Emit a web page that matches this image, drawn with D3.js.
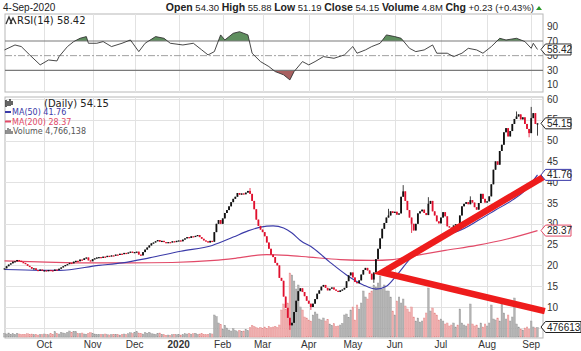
<!DOCTYPE html>
<html>
<head>
<meta charset="utf-8">
<script src="https://cdn.jsdelivr.net/npm/d3@7"></script>
<style>
  body { margin: 0; background: #fff; }
  svg { display: block; font-family: "Liberation Sans", Arial, sans-serif; }
</style>
</head>
<body>
<svg id="chart" width="581" height="351"></svg>
<script>
// daily closes, 4-Sep-2019 .. 4-Sep-2020
const closes = [
  19.3,19.8,20.2,20.5,20.9,21.0,21.3,21.1,20.8,20.6,20.3,19.9,19.6,19.2,19.3,18.9,18.8,19.0,18.7,18.8,
  18.6,18.9,18.8,18.7,19.0,18.9,19.2,19.5,19.8,20.1,20.3,20.6,20.5,20.9,21.1,21.0,21.4,21.3,21.7,21.9,21.2,21.0,21.5,21.7,21.9,22.0,
  21.8,22.1,22.0,22.3,22.2,22.4,22.3,22.6,22.5,22.8,22.7,23.0,22.9,23.1,23.3,23.0,23.2,23.3,22.6,22.4,23.2,23.8,
  24.3,24.8,25.3,25.5,25.8,26.1,25.7,25.9,25.6,25.4,25.6,25.5,25.8,25.6,25.9,26.0,25.8,26.2,26.5,26.8,26.6,27.0,26.9,27.1,27.3,26.8,26.4,26.0,25.8,25.5,25.9,25.7,
  28.0,30.0,30.9,30.0,31.3,32.6,33.3,34.2,35.2,36.0,36.5,37.4,37.0,37.3,37.1,37.5,37.9,37.2,35.5,33.5,31.0,29.5,
  28.6,28.0,27.0,25.5,24.0,22.6,22.0,20.6,20.0,17.0,16.3,12.5,9.8,7.4,5.6,6.2,8.8,11.5,13.8,14.5,13.6,12.6,11.5,10.8,
  10.0,10.8,11.9,13.2,14.0,14.9,15.3,14.6,14.0,14.4,14.7,14.2,13.9,13.6,14.0,14.2,14.6,16.2,17.6,18.3,17.1,16.0,15.7,16.4,17.8,18.9,19.4,18.8,18.0,16.6,18.3,
  21.5,24.0,26.5,28.8,30.2,31.5,32.0,33.0,32.6,32.9,32.2,32.5,36.5,37.8,35.5,33.3,31.5,30.0,28.4,30.0,32.5,33.0,33.4,32.6,32.1,34.8,
  35.5,33.0,32.0,30.6,30.1,31.5,32.8,31.8,29.4,29.1,28.8,29.6,29.9,29.0,32.0,34.2,34.8,35.2,34.7,35.7,35.1,34.0,33.4,35.0,37.2,36.0,35.1,35.4,
  36.6,39.5,43.0,45.0,44.2,47.5,49.0,52.0,53.0,51.0,52.3,54.0,55.2,55.8,56.3,55.1,55.6,54.0,52.8,51.8,55.4,56.6,54.0,54.15
];
// notable wicks (trading-day index -> price)
const highs = {117: 38.6, 183: 33.6, 190: 39.3, 202: 36.4, 222: 36.6, 244: 57.0, 251: 58.1};
const lows = {136: 4.5, 146: 9.3, 176: 15.8, 194: 27.8, 250: 50.8, 254: 51.19};

// daily volume, millions
const volumes = [
  1.8,1.5,2.0,1.4,1.6,1.3,1.9,1.5,1.2,1.4,1.3,1.6,1.2,1.5,1.1,1.4,1.0,1.3,1.2,1.5,
  1.3,1.1,1.6,1.4,2.6,1.8,1.5,2.3,2.0,1.7,2.4,3.0,2.2,2.9,2.6,1.8,1.6,2.0,1.5,1.4,1.9,2.2,1.6,1.5,1.2,1.4,
  1.3,1.2,1.5,1.1,1.0,1.3,1.2,1.4,1.1,1.0,1.3,1.5,1.2,1.6,2.1,1.7,2.3,2.6,2.0,1.8,1.5,2.2,
  1.9,2.4,1.6,1.5,1.3,1.8,2.0,1.4,1.1,0.9,1.0,0.8,1.2,1.4,1.1,1.3,1.0,1.2,1.6,1.5,1.8,1.4,1.6,1.9,1.3,1.5,1.7,1.3,1.2,1.4,1.6,1.5,
  11.0,10.2,7.0,6.2,4.0,5.8,4.5,3.5,3.0,4.1,3.2,2.6,3.4,2.8,3.0,3.8,3.2,4.6,5.8,5.2,4.6,4.3,
  4.8,4.2,5.0,4.4,5.2,4.6,5.0,5.4,4.8,6.0,13.5,16.5,14.0,17.0,32.0,31.0,28.0,24.0,26.0,15.0,13.5,10.0,9.5,
  8.5,8.0,11.0,12.5,11.5,9.0,8.5,9.5,8.0,8.8,6.5,5.8,6.6,5.2,5.5,6.0,6.8,11.0,11.5,9.8,13.5,15.0,8.5,16.0,14.0,17.0,23.0,20.0,19.0,22.0,23.0,26.0,25.0,27.0,30.5,24.0,26.0,23.0,23.0,
  20.0,13.0,11.0,18.0,20.0,17.0,19.0,15.5,14.0,12.5,15.0,10.0,8.0,9.5,7.5,
  8.0,9.5,12.0,24.5,13.0,14.5,12.0,11.0,8.5,9.0,8.0,6.5,7.0,5.5,6.0,7.0,5.0,6.0,14.0,7.0,6.0,5.5,6.5,16.5,6.5,5.5,6.0,4.5,7.0,5.0,6.5,5.5,
  7.0,16.0,9.0,8.5,9.5,8.0,19.0,12.0,9.0,11.0,8.0,10.0,19.5,6.5,5.0,4.0,3.5,4.5,5.0,4.0,8.0,5.0,4.5,4.77
];

// moving averages read at sample days
const ma50Idx = [0,17,26,45,56,69,84,99,109,116,122,128,133,137,141,147,155,163,171,177,182,187,194,203,211,218,226,234,242,248,254];
const ma50Val = [19.0,18.8,18.8,20.0,20.6,21.8,23.4,24.8,26.8,28.3,29.2,29.5,29.0,27.8,26.0,24.2,20.8,17.7,15.3,14.3,15.0,17.7,22.0,25.4,27.3,28.6,30.9,33.3,35.7,38.0,41.76];
const ma200Idx = [0,20,40,60,80,100,110,125,135,145,160,175,185,195,210,225,240,254];
const ma200Val = [21.1,20.8,20.6,20.6,20.7,21.2,21.7,22.6,22.4,22.0,21.4,21.2,21.4,22.3,23.6,24.8,26.4,28.37];

// RSI(14) read at sample days
const rsiIdx = [0,5,8,12,17,21,25,26,30,33,36,39,40,44,47,51,56,60,64,67,72,76,79,85,90,94,97,100,103,105,109,112,116,118,122,126,129,133,136,138,142,145,148,152,157,162,166,168,172,175,179,182,186,189,193,196,200,204,206,211,214,218,221,225,228,232,236,239,244,248,251,252,254];
const rsiVal = [57.8,64.6,62.4,51.0,37.4,44.1,42.8,48.7,62.4,69.2,73.7,76.0,66.9,66.9,69.2,62.4,66.9,71.4,55.5,66.9,76.0,73.7,66.9,64.6,66.9,57.8,51.0,55.5,78.3,71.4,80.5,82.7,78.3,53.3,41.9,35.1,28.3,23.8,16.9,28.3,41.9,37.4,41.9,48.7,46.4,51.0,62.4,53.3,57.8,62.4,66.9,78.3,76.0,73.7,60.0,55.5,57.8,64.6,53.3,53.3,48.7,53.3,60.0,57.8,53.3,62.4,73.7,71.4,73.7,69.2,60.0,66.9,58.42];

// hand-drawn annotation lines: [index, price]
const trendUp = [[180, 18.3], [261, 42.5]];
const trendDown = [[180, 18.3], [257.5, 9.0]];

const monthLabels = ["Oct", "Nov", "Dec", "2020", "Feb", "Mar", "Apr", "May", "Jun", "Jul", "Aug", "Sep"];
const priceTicks = [60, 55, 50, 45, 40, 35, 30, 25, 20, 15, 10];
const rsiTicks = [90, 70, 50, 30, 10];

// trading calendar
const holidays = ["2019-11-28", "2019-12-25", "2020-01-01", "2020-01-20", "2020-02-17", "2020-04-10", "2020-05-25", "2020-07-03"];
const fmt = d3.timeFormat("%Y-%m-%d");
const days = [];
for (let d = new Date(2019, 8, 4); d <= new Date(2020, 8, 4); d.setDate(d.getDate() + 1)) {
  const wd = d.getDay();
  if (wd === 0 || wd === 6 || holidays.includes(fmt(d))) continue;
  days.push(new Date(d));
}
const monthStarts = [];
days.forEach(function(d, i) {
  if (i > 0 && d.getMonth() !== days[i - 1].getMonth()) monthStarts.push(i);
});

const n = closes.length;
const svg = d3.select("#chart");
const left = 5, right = 543;
const rsiTop = 14, rsiBottom = 92;
const pTop = 97, pBottom = 338;

const x = d3.scaleLinear().domain([0, n - 1]).range([4.5, 537.5]);
const yP = d3.scaleLinear().domain([10, 60]).range([307, 99]);
const yR = d3.scaleLinear().domain([30, 70]).range([70.3, 41]);
const yV = d3.scaleLinear().domain([0, 32]).range([337, 273]);

// ---- header
svg.append("text").attr("x", 3).attr("y", 10.5).attr("font-size", 10).attr("fill", "#222").text("4-Sep-2020");
const head = svg.append("text").attr("y", 10.5).attr("font-size", 10.5).attr("fill", "#222");
[["Open", " 54.30 "], ["High", " 55.88 "], ["Low", " 51.19 "], ["Close", " 54.15 "], ["Volume", " 4.8M "], ["Chg", " +0.23 (+0.43%)"]].forEach(function(p) {
  head.append("tspan").attr("font-weight", "bold").text(p[0]);
  head.append("tspan").attr("font-size", 9.5).text(p[1]);
});
const hw = head.node().getComputedTextLength();
head.attr("x", 534 - hw);
svg.append("path").attr("d", "M536,10 L542,10 L539,6 Z").attr("fill", "#2a9a2a");

// ---- panels
function panel(top, bottom) {
  svg.append("rect").attr("x", left).attr("y", top).attr("width", right - left).attr("height", bottom - top)
    .attr("fill", "#fff").attr("stroke", "#b8b8b8").attr("stroke-width", 1);
  svg.append("g").selectAll("line").data(monthStarts).enter().append("line")
    .attr("x1", function(i) { return Math.round(x(i)) + 0.5; })
    .attr("x2", function(i) { return Math.round(x(i)) + 0.5; })
    .attr("y1", top).attr("y2", bottom)
    .attr("stroke", "#e2e2e2");
}
panel(rsiTop, rsiBottom);
panel(pTop, pBottom);

// price gridlines
svg.append("g").selectAll("line").data(priceTicks.concat([5])).enter().append("line")
  .attr("x1", left).attr("x2", right)
  .attr("y1", function(d) { return Math.round(yP(d)) + 0.5; })
  .attr("y2", function(d) { return Math.round(yP(d)) + 0.5; })
  .attr("stroke", "#e2e2e2");

// ---- RSI
const rsiPts = rsiIdx.map(function(d, k) { return [d, rsiVal[k]]; });
const rsiLine = d3.line().x(function(d) { return x(d[0]); }).y(function(d) { return yR(d[1]); });
const defs = svg.append("defs");
defs.append("clipPath").attr("id", "above70").append("rect")
  .attr("x", left).attr("y", rsiTop).attr("width", right - left).attr("height", yR(70) - rsiTop);
defs.append("clipPath").attr("id", "below30").append("rect")
  .attr("x", left).attr("y", yR(30)).attr("width", right - left).attr("height", rsiBottom - yR(30));
svg.append("path").datum(rsiPts).attr("clip-path", "url(#above70)")
  .attr("d", d3.area().x(function(d) { return x(d[0]); }).y0(yR(70)).y1(function(d) { return yR(d[1]); }))
  .attr("fill", "#5f8f5f");
svg.append("path").datum(rsiPts).attr("clip-path", "url(#below30)")
  .attr("d", d3.area().x(function(d) { return x(d[0]); }).y0(yR(30)).y1(function(d) { return yR(d[1]); }))
  .attr("fill", "#a86060");
[70, 30].forEach(function(v) {
  svg.append("line").attr("x1", left).attr("x2", right).attr("y1", yR(v)).attr("y2", yR(v))
    .attr("stroke", "#7a7a7a").attr("stroke-width", 1.2);
});
svg.append("line").attr("x1", left).attr("x2", right).attr("y1", yR(50)).attr("y2", yR(50))
  .attr("stroke", "#a0a0a0").attr("stroke-dasharray", "7,2,2,2");
svg.append("path").datum(rsiPts).attr("d", rsiLine).attr("fill", "none").attr("stroke", "#333").attr("stroke-width", 0.9);

svg.append("g").selectAll("text").data(rsiTicks).enter().append("text")
  .attr("x", 547).attr("y", function(d) { return yR(d) + 3.5; })
  .attr("font-size", 10).attr("fill", "#333").text(function(d) { return d; });

// RSI legend
svg.append("path").attr("d", "M6,24 L9,17 L12,24 M10,24 L13,18 L16,24").attr("fill", "none").attr("stroke", "#333").attr("stroke-width", 1.3);
svg.append("text").attr("x", 17).attr("y", 24).attr("font-family", "DejaVu Sans").attr("font-size", 10).attr("fill", "#222").text("RSI(14) 58.42");

// ---- volume
const vol = svg.append("g");
vol.selectAll("rect").data(volumes.slice(0, n)).enter().append("rect")
  .attr("x", function(d, i) { return x(i) - 0.8; })
  .attr("width", 1.6)
  .attr("y", function(d) { return yV(d); })
  .attr("height", function(d) { return yV(0) - yV(d); })
  .attr("fill", function(d, i) { return i > 0 && closes[i] < closes[i - 1] ? "#f1b0b0" : "#b4b4b4"; })
  .attr("stroke", function(d, i) { return i > 0 && closes[i] < closes[i - 1] ? "#e48c8c" : "#979797"; })
  .attr("stroke-width", 0.4);

// ---- moving averages
const maLine = d3.line().curve(d3.curveMonotoneX)
  .x(function(d) { return x(d[0]); }).y(function(d) { return yP(d[1]); });
svg.append("path").datum(ma200Idx.map(function(d, k) { return [d, ma200Val[k]]; }))
  .attr("d", maLine).attr("fill", "none").attr("stroke", "#e24a68").attr("stroke-width", 1.2);
svg.append("path").datum(ma50Idx.map(function(d, k) { return [d, ma50Val[k]]; }))
  .attr("d", maLine).attr("fill", "none").attr("stroke", "#3a3aa8").attr("stroke-width", 1.1);

// ---- candles (open = previous close)
const candles = svg.append("g");
closes.forEach(function(c, i) {
  const o = i > 0 ? closes[i - 1] : c;
  const up = c >= o;
  const col = up ? "#111" : "#e0102e";
  const hi = Math.max(highs[i] || 0, o, c), lo = Math.min(lows[i] || 99, o, c);
  candles.append("line").attr("x1", x(i)).attr("x2", x(i)).attr("y1", yP(hi)).attr("y2", yP(lo))
    .attr("stroke", col).attr("stroke-width", 0.8);
  const top = yP(Math.max(o, c)), h = Math.max(1.2, Math.abs(yP(o) - yP(c)));
  candles.append("rect").attr("x", x(i) - 0.9).attr("width", 1.8).attr("y", top).attr("height", h)
    .attr("fill", col);
});

// ---- annotation lines
const tl = d3.line().x(function(d) { return x(d[0]); }).y(function(d) { return yP(d[1]); });
svg.append("path").datum([trendUp[1], trendUp[0], trendDown[1]]).attr("d", tl)
  .attr("fill", "none").attr("stroke", "#ee1c1c").attr("stroke-width", 6.5).attr("stroke-linejoin", "miter");

// ---- right price axis
svg.append("g").selectAll("text").data(priceTicks).enter().append("text")
  .attr("x", 547).attr("y", function(d) { return yP(d) + 3.5; })
  .attr("font-size", 10).attr("fill", "#333").text(function(d) { return d; });

// value flags
function flag(yc, label, color) {
  svg.append("path")
    .attr("d", "M541," + yc + " L545.5," + (yc - 5.5) + " L571," + (yc - 5.5) + " L571," + (yc + 5.5) + " L545.5," + (yc + 5.5) + " Z")
    .attr("fill", "#fff").attr("stroke", color).attr("stroke-width", 1);
  svg.append("text").attr("x", 547).attr("y", yc + 3.5).attr("font-size", 10).attr("fill", "#222").text(label);
}
flag(yR(58.42), "58.42", "#333");
flag(yP(closes[n - 1]), "54.15", "#222");
flag(yP(ma50Val[ma50Val.length - 1]), "41.76", "#3a3aa8");
flag(yP(ma200Val[ma200Val.length - 1]), "28.37", "#e24a68");
svg.append("path").attr("d", "M541,327 L545.5,321.5 L581,321.5 L581,332.5 L545.5,332.5 Z").attr("fill", "#fff").attr("stroke", "#222");
svg.append("text").attr("x", 547).attr("y", 330.5).attr("font-size", 10).attr("fill", "#222").text("476613");

// ---- price legend
const lg = svg.append("g").attr("font-family", "DejaVu Sans");
lg.append("path").attr("d", "M6,100 v7 M8,101 v5 M10,99 v7 M12,101 v4").attr("stroke", "#111").attr("stroke-width", 1.3);
lg.append("text").attr("x", 44).attr("y", 107).attr("font-size", 10).attr("fill", "#222").text("(Daily) 54.15");
lg.append("line").attr("x1", 5).attr("x2", 11).attr("y1", 112).attr("y2", 112).attr("stroke", "#3a3aa8").attr("stroke-width", 2);
lg.append("text").attr("x", 12).attr("y", 115).attr("font-size", 8).attr("fill", "#3a3aa8").text("MA(50) 41.76");
lg.append("line").attr("x1", 5).attr("x2", 11).attr("y1", 121.5).attr("y2", 121.5).attr("stroke", "#e24a68").attr("stroke-width", 2);
lg.append("text").attr("x", 12).attr("y", 124.5).attr("font-size", 8).attr("fill", "#e24a68").text("MA(200) 28.37");
lg.append("path").attr("d", "M6,134 v-4 M8,134 v-6 M10,134 v-5 M12,134 v-3").attr("stroke", "#555").attr("stroke-width", 1.3);
lg.append("text").attr("x", 13).attr("y", 134).attr("font-size", 8).attr("fill", "#555").text("Volume 4,766,138");

// ---- month axis
svg.append("g").selectAll("text").data(monthStarts.slice(0, monthLabels.length)).enter().append("text")
  .attr("x", function(i) { return x(i); }).attr("y", 348)
  .attr("text-anchor", "middle").attr("font-size", 10).attr("fill", "#333")
  .attr("font-weight", function(i, k) { return monthLabels[k] === "2020" ? "bold" : "normal"; })
  .text(function(i, k) { return monthLabels[k]; });
</script>
</body>
</html>
